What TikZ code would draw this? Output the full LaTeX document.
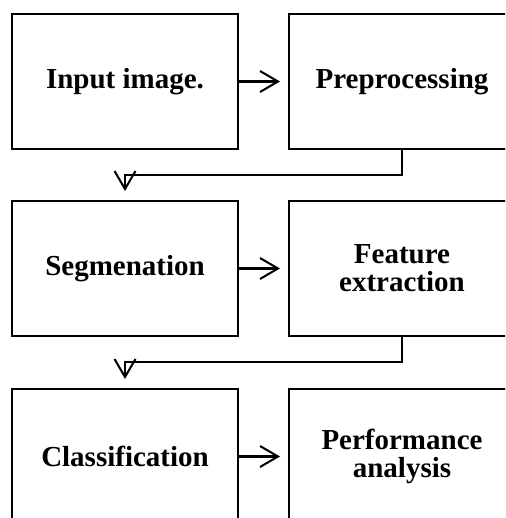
\documentclass[tikz,border=0pt]{standalone}
\usepackage{fontspec}
\setmainfont{Liberation Serif}
\usetikzlibrary{positioning, calc, arrows.meta}

\begin{document}
\begin{tikzpicture}[x=0.02cm, y=-0.02cm,
    box/.style={draw, line width=1.15pt, minimum width=4.52cm, minimum height=2.7cm,
                align=center, font=\fontsize{16.5}{16}\selectfont\bfseries},
    arr/.style={line width=1.15pt, -{Straight Barb[length=0.36cm, width=0.42cm, line width=1.15pt]}}]
\useasboundingbox (0,0) rectangle (505,518);
\clip (0,0) rectangle (505,518);

\node[box] (inp) at (125,81.5) {Input image.};
\node[box] (pre) at (402,81.5) {Preprocessing};
\node[box] (seg) at (125,268.5) {Segmenation};
\node[box] (fea) at (402,268.5) {Feature\\extraction};
\node[box] (cls) at (125,456.5) {Classification};
\node[box] (per) at (402,456.5) {Performance\\analysis};

\path[arr, shorten >=0.16cm]
    (inp) edge (pre)
    (seg) edge (fea)
    (cls) edge (per);
\draw[arr] (pre.south) -- ++(0,25) -| ([yshift=0.18cm]seg.north);
\draw[arr] (fea.south) -- ++(0,25) -| ([yshift=0.18cm]cls.north);
\end{tikzpicture}
\end{document}
